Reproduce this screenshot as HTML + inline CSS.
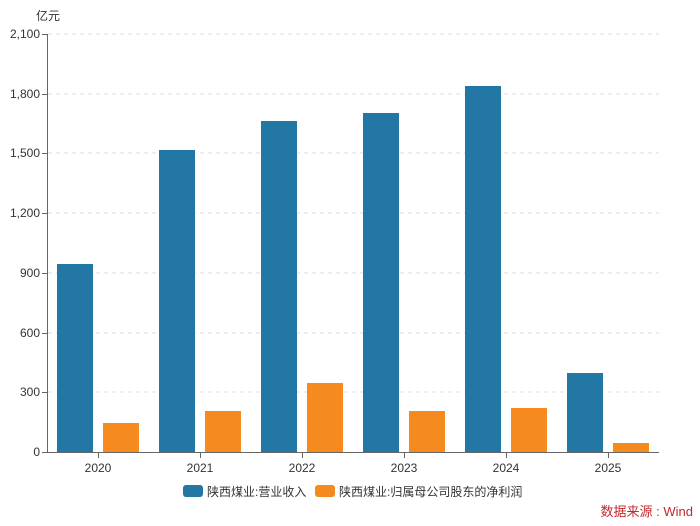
<!DOCTYPE html><html><head><meta charset="utf-8"><style>body{margin:0;background:#fff}svg{display:block}text{font-family:"Liberation Sans","Noto Sans CJK SC",sans-serif}</style></head><body>
<svg width="700" height="526" viewBox="0 0 700 526">
<g stroke="#ddd" stroke-dasharray="4,4">
<line x1="48" x2="659" y1="34" y2="34"/><line x1="48" x2="659" y1="94" y2="94"/><line x1="48" x2="659" y1="153" y2="153"/><line x1="48" x2="659" y1="213" y2="213"/><line x1="48" x2="659" y1="273" y2="273"/><line x1="48" x2="659" y1="333" y2="333"/><line x1="48" x2="659" y1="392" y2="392"/></g>
<text x="36" y="20" font-size="12" fill="#333">亿元</text>
<g font-size="12" fill="#333" text-anchor="end">
<text x="40" y="38">2,100</text><text x="40" y="98">1,800</text><text x="40" y="157">1,500</text><text x="40" y="217">1,200</text><text x="40" y="277">900</text><text x="40" y="337">600</text><text x="40" y="396">300</text><text x="40" y="456">0</text></g>
<g fill="#2277a4">
<rect x="57" y="264" width="36" height="188"/><rect x="159" y="150" width="36" height="302"/><rect x="261" y="121" width="36" height="331"/><rect x="363" y="113" width="36" height="339"/><rect x="465" y="86" width="36" height="366"/><rect x="567" y="373" width="36" height="79"/></g>
<g fill="#f58b1f">
<rect x="103" y="423" width="36" height="29"/><rect x="205" y="411" width="36" height="41"/><rect x="307" y="383" width="36" height="69"/><rect x="409" y="411" width="36" height="41"/><rect x="511" y="408" width="36" height="44"/><rect x="613" y="443" width="36" height="9"/></g>
<g stroke="#666"><line x1="47.5" y1="34" x2="47.5" y2="452"/><line x1="47" y1="452.5" x2="659" y2="452.5"/>
<line x1="42" x2="48" y1="34.5" y2="34.5"/><line x1="42" x2="48" y1="94.5" y2="94.5"/><line x1="42" x2="48" y1="153.5" y2="153.5"/><line x1="42" x2="48" y1="213.5" y2="213.5"/><line x1="42" x2="48" y1="273.5" y2="273.5"/><line x1="42" x2="48" y1="333.5" y2="333.5"/><line x1="42" x2="48" y1="392.5" y2="392.5"/><line x1="42" x2="48" y1="452.5" y2="452.5"/>
<line x1="98.5" x2="98.5" y1="452" y2="458"/><line x1="200.5" x2="200.5" y1="452" y2="458"/><line x1="302.5" x2="302.5" y1="452" y2="458"/><line x1="404.5" x2="404.5" y1="452" y2="458"/><line x1="506.5" x2="506.5" y1="452" y2="458"/><line x1="608.5" x2="608.5" y1="452" y2="458"/></g>
<g font-size="12" fill="#333" text-anchor="middle">
<text x="98" y="472">2020</text><text x="200" y="472">2021</text><text x="302" y="472">2022</text><text x="404" y="472">2023</text><text x="506" y="472">2024</text><text x="608" y="472">2025</text></g>
<rect x="183" y="485" width="20" height="12" rx="3" fill="#2277a4"/>
<text x="207" y="496" font-size="12" fill="#333">陕西煤业:营业收入</text>
<rect x="315" y="485" width="20" height="12" rx="3" fill="#f58b1f"/>
<text x="339" y="496" font-size="12" fill="#333">陕西煤业:归属母公司股东的净利润</text>
<text x="693" y="516" font-size="13" fill="#c0282d" text-anchor="end">数据来源 : Wind</text>
</svg></body></html>
